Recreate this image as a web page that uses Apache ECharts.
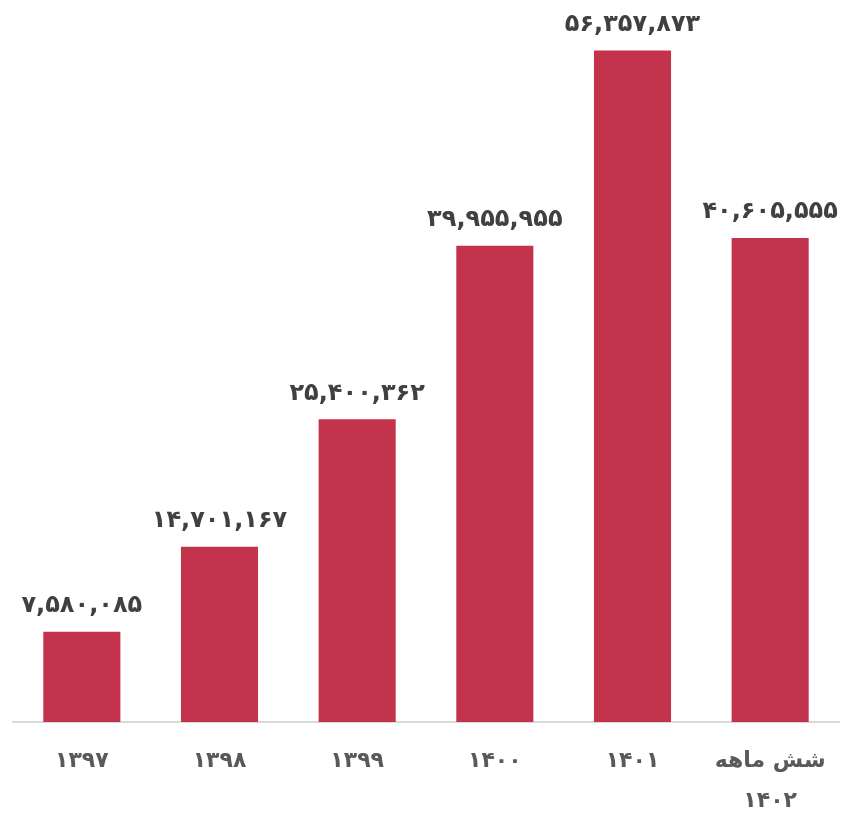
<!DOCTYPE html>
<html lang="fa">
<head>
    <meta charset="UTF-8">
    <title></title>
    <script src="https://cdn.jsdelivr.net/npm/echarts@6/dist/echarts.min.js"></script>
    <style>
        html, body { margin: 0; padding: 0; background: #fff; }
        #main { width: 850px; height: 815px; }
    </style>
</head>
<body>
<div id="main"></div>
<script>
    // دسته‌ها و مقادیر
    var years = ['۱۳۹۷', '۱۳۹۸', '۱۳۹۹', '۱۴۰۰', '۱۴۰۱', 'شش ماهه\n۱۴۰۲'];
    var amounts = [7580085, 14701167, 25400362, 39955955, 56357873, 40605555];

    var faDigits = ['۰', '۱', '۲', '۳', '۴', '۵', '۶', '۷', '۸', '۹'];
    function toFa(n) {
        return String(n).replace(/\B(?=(\d{3})+(?!\d))/g, ',')
            .replace(/\d/g, function (d) { return faDigits[+d]; });
    }

    var chart = echarts.init(document.getElementById('main'));
    var option = {
        animation: false,
        grid: {
            left: 13,
            right: 11,
            top: 7,
            bottom: 93,
            containLabel: false,
            outerBoundsMode: 'none'
        },
        xAxis: {
            type: 'category',
            data: years,
            axisTick: { show: false },
            axisLine: { lineStyle: { color: '#d9d9d9', width: 2 } },
            axisLabel: {
                interval: 0,
                margin: 19,
                color: '#595959',
                fontSize: 22,
                fontWeight: 'bold',
                fontFamily: 'DejaVu Sans',
                lineHeight: 40
            }
        },
        yAxis: {
            type: 'value',
            min: 0,
            max: 60000000,
            show: false,
            splitLine: { show: false }
        },
        series: [{
            type: 'bar',
            data: amounts,
            barWidth: '56%',
            itemStyle: { color: '#c4334c' },
            label: {
                show: true,
                position: 'top',
                distance: 14,
                color: '#404040',
                fontSize: 24,
                fontWeight: 'bold',
                fontFamily: 'DejaVu Sans',
                formatter: function (p) { return toFa(p.value); }
            }
        }]
    };
    chart.setOption(option);
</script>
</body>
</html>
